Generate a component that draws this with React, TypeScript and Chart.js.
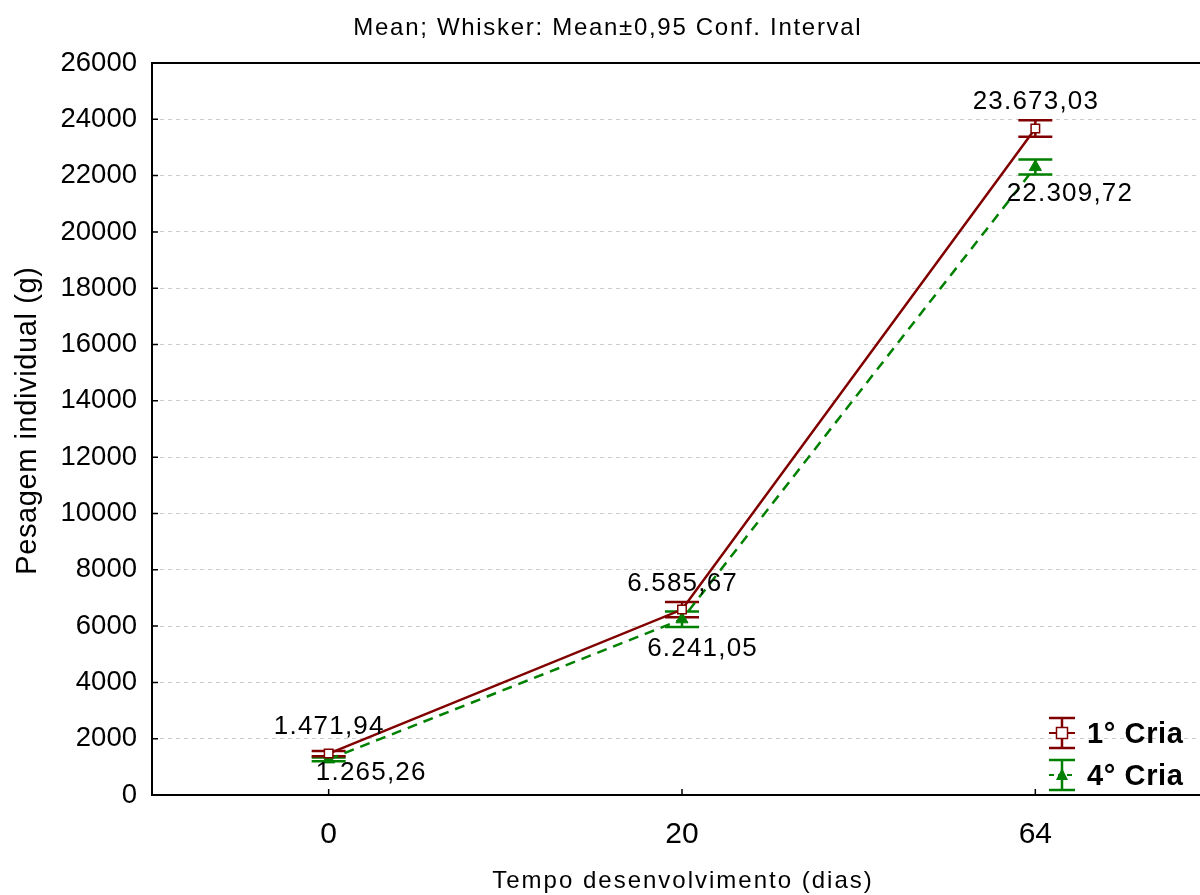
import React, { useEffect, useRef } from 'react';
import { Chart, registerables } from 'chart.js';

Chart.register(...registerables);

const categories = ['0', '20', '64'];
const cria1Mean = [1471.94, 6585.67, 23673.03];
const cria1Low = [1380, 6312, 23378];
const cria1High = [1560, 6858, 23968];
const cria4Mean = [1265.26, 6241.05, 22309.72];
const cria4Low = [1195, 5964, 22044];
const cria4High = [1335, 6518, 22576];
const seriesNames = ['1° Cria', '4° Cria'];
const yMin = 0;
const yMax = 26000;
const yStep = 2000;
const titleText = 'Mean; Whisker: Mean±0,95 Conf. Interval';
const xTitle = 'Tempo desenvolvimento (dias)';
const yTitle = 'Pesagem individual (g)';

const RED = '#800000';
const GREEN = '#008000';
const FONT = '"Liberation Sans", Arial, Helvetica, sans-serif';

function fmtBR(v: number): string {
  const [intPart, dec] = v.toFixed(2).split('.');
  const withDots = intPart.replace(/\B(?=(\d{3})+(?!\d))/g, '.');
  return withDots + ',' + dec;
}

const lows = [cria1Low, cria4Low];
const highs = [cria1High, cria4High];
const means = [cria1Mean, cria4Mean];
const colors = [RED, GREEN];
// label offsets [dx, dy] relative to marker
const labelOffsets = [
  [[0, -27], [0, -26], [0, -27]],
  [[42, 13], [20, 30], [34, 27]],
];

function text(ctx: CanvasRenderingContext2D, s: string, x: number, y: number, font: string, spacing = 0, align: CanvasTextAlign = 'center', baseline: CanvasTextBaseline = 'middle') {
  ctx.save();
  ctx.font = font;
  (ctx as any).letterSpacing = spacing + 'px';
  ctx.fillStyle = '#000';
  ctx.textAlign = 'left';
  ctx.textBaseline = baseline;
  const w = ctx.measureText(s).width - spacing;
  let sx = x;
  if (align === 'center') sx = x - w / 2;
  else if (align === 'right') sx = x - w;
  ctx.fillText(s, sx, y);
  ctx.restore();
}

function drawMarker(ctx: CanvasRenderingContext2D, idx: number, x: number, y: number) {
  ctx.save();
  if (idx === 0) {
    ctx.fillStyle = '#fff';
    ctx.strokeStyle = RED;
    ctx.lineWidth = 1.5;
    ctx.fillRect(x - 5.5, y - 5.5, 11, 11);
    ctx.strokeRect(x - 5.5, y - 5.5, 11, 11);
  } else {
    ctx.fillStyle = GREEN;
    ctx.beginPath();
    ctx.moveTo(x, y - 7);
    ctx.lineTo(x + 6, y + 5);
    ctx.lineTo(x - 6, y + 5);
    ctx.closePath();
    ctx.fill();
  }
  ctx.restore();
}

const decorPlugin = {
  id: 'decor',
  beforeDatasetsDraw(chart: any) {
    const ctx: CanvasRenderingContext2D = chart.ctx;
    const ys = chart.scales.y;
    for (let d = 1; d >= 0; d--) {
      const meta = chart.getDatasetMeta(d);
      ctx.save();
      ctx.strokeStyle = colors[d];
      ctx.lineWidth = 2.5;
      meta.data.forEach((pt: any, j: number) => {
        const x = pt.x;
        const yl = ys.getPixelForValue(lows[d][j]);
        const yh = ys.getPixelForValue(highs[d][j]);
        ctx.beginPath();
        ctx.moveTo(x, yl);
        ctx.lineTo(x, yh);
        ctx.moveTo(x - 17, yl);
        ctx.lineTo(x + 17, yl);
        ctx.moveTo(x - 17, yh);
        ctx.lineTo(x + 17, yh);
        ctx.stroke();
      });
      ctx.restore();
    }
  },
  afterDraw(chart: any) {
    const ctx: CanvasRenderingContext2D = chart.ctx;
    const a = chart.chartArea;
    const xs = chart.scales.x;
    const ys = chart.scales.y;
    // frame
    ctx.save();
    ctx.strokeStyle = '#000';
    ctx.lineWidth = 2;
    ctx.strokeRect(a.left, a.top, a.right - a.left, a.bottom - a.top);
    // inner ticks
    ctx.lineWidth = 1.5;
    ctx.beginPath();
    for (let v = yMin; v <= yMax; v += yStep) {
      const y = ys.getPixelForValue(v);
      ctx.moveTo(a.left, y);
      ctx.lineTo(a.left + 6, y);
    }
    categories.forEach((_, i) => {
      const x = xs.getPixelForValue(i);
      ctx.moveTo(x, a.bottom);
      ctx.lineTo(x, a.bottom - 6);
    });
    ctx.stroke();
    ctx.restore();

    // titles
    text(ctx, titleText, 607, 28, `24px ${FONT}`, 1.7);
    text(ctx, xTitle, (a.left + a.right) / 2, 881, `24px ${FONT}`, 2);
    ctx.save();
    ctx.translate(36, 421);
    ctx.rotate(-Math.PI / 2);
    text(ctx, yTitle, 0, 0, `29px ${FONT}`, 0.6, 'center', 'alphabetic');
    ctx.restore();

    // data labels
    for (let d = 0; d < 2; d++) {
      const meta = chart.getDatasetMeta(d);
      meta.data.forEach((pt: any, j: number) => {
        const [dx, dy] = labelOffsets[d][j];
        text(ctx, fmtBR(means[d][j]), pt.x + dx, pt.y + dy, `26px ${FONT}`, 1.2);
      });
    }

    // legend
    const lx = 1062;
    const rows = [733, 775];
    rows.forEach((ly, d) => {
      ctx.save();
      ctx.strokeStyle = colors[d];
      ctx.lineWidth = 2.5;
      ctx.beginPath();
      ctx.moveTo(lx, ly - 15);
      ctx.lineTo(lx, ly + 15);
      ctx.moveTo(lx - 13, ly - 15);
      ctx.lineTo(lx + 13, ly - 15);
      ctx.moveTo(lx - 13, ly + 15);
      ctx.lineTo(lx + 13, ly + 15);
      ctx.stroke();
      ctx.lineWidth = 2;
      if (d === 1) ctx.setLineDash([5, 4]);
      ctx.beginPath();
      ctx.moveTo(lx - 13, ly);
      ctx.lineTo(lx + 13, ly);
      ctx.stroke();
      ctx.restore();
      drawMarker(ctx, d, lx, ly);
      text(ctx, seriesNames[d], 1087, ly + 2, `bold 29px ${FONT}`, 0.6, 'left');
    });
  },
};

export default function App() {
  const ref = useRef<HTMLCanvasElement | null>(null);
  useEffect(() => {
    if (!ref.current) return;
    const chart = new Chart(ref.current, {
      type: 'line',
      data: {
        labels: categories,
        datasets: [
          {
            label: seriesNames[0],
            data: cria1Mean,
            borderColor: RED,
            borderWidth: 2.5,
            pointStyle: 'rect',
            pointRadius: 6,
            pointBackgroundColor: '#fff',
            pointBorderColor: RED,
            pointBorderWidth: 1.5,
            tension: 0,
          },
          {
            label: seriesNames[1],
            data: cria4Mean,
            borderColor: GREEN,
            borderWidth: 2.5,
            borderDash: [10, 7],
            pointStyle: 'triangle',
            pointRadius: 7,
            pointBackgroundColor: GREEN,
            pointBorderColor: GREEN,
            pointBorderWidth: 1,
            tension: 0,
          },
        ],
      },
      options: {
        animation: false,
        responsive: false,
        layout: { padding: { top: 63, right: 18, left: 0, bottom: 0 } },
        plugins: { legend: { display: false }, tooltip: { enabled: false }, title: { display: false } },
        scales: {
          x: {
            type: 'category',
            offset: true,
            grid: { display: false, drawTicks: false },
            border: { display: false },
            ticks: { color: '#000', font: { family: FONT, size: 30 }, padding: 22, maxRotation: 0 },
            afterFit: (s: any) => { s.height = 100; },
          },
          y: {
            min: yMin,
            max: yMax,
            grid: { color: '#cccccc', lineWidth: 1, drawTicks: false },
            border: { display: false, dash: [4, 4] },
            ticks: {
              stepSize: yStep,
              color: '#000',
              font: { family: FONT, size: 27.5 },
              padding: 15,
              callback: (v: any) => String(v),
            },
            afterFit: (s: any) => { s.width = 152; },
          },
        },
      },
      plugins: [decorPlugin],
    });
    return () => chart.destroy();
  }, []);
  return (
    <div style={{ position: 'fixed', left: 0, top: 0, width: 1200, height: 895, overflow: 'hidden', background: '#fff' }}>
      <canvas ref={ref} width={1230} height={895} style={{ display: 'block', width: 1230, height: 895 }} />
    </div>
  );
}
